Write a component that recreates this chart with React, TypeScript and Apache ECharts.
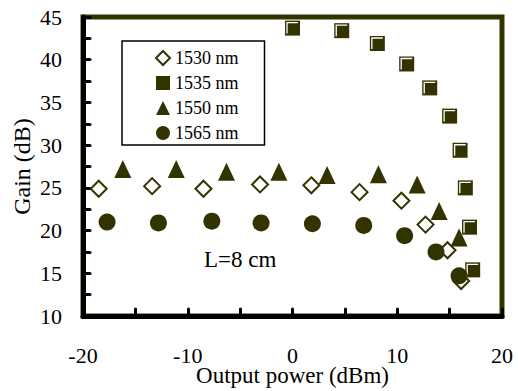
import React, { useEffect, useRef } from "react";
import * as echarts from "echarts";

const seriesNames = ["1530 nm", "1535 nm", "1550 nm", "1565 nm"];

const power1530 = [-18.5, -13.4, -8.5, -3.1, 1.8, 6.4, 10.4, 12.7, 14.8, 16.1];
const gain1530 = [24.9, 25.2, 24.9, 25.4, 25.3, 24.5, 23.5, 20.7, 17.7, 14.1];

const power1535 = [0.0, 4.7, 8.1, 10.9, 13.1, 15.0, 16.0, 16.5, 16.9, 17.2];
const gain1535 = [43.7, 43.4, 41.9, 39.5, 36.7, 33.4, 29.4, 25.0, 20.4, 15.4];

const power1550 = [-16.2, -11.1, -6.3, -1.3, 3.3, 8.2, 11.9, 14.0, 15.9];
const gain1550 = [27.2, 27.2, 26.9, 26.9, 26.5, 26.6, 25.4, 22.3, 19.2];

const power1565 = [-17.7, -12.8, -7.7, -3.0, 1.9, 6.8, 10.7, 13.7, 15.9];
const gain1565 = [21.0, 20.9, 21.1, 20.9, 20.8, 20.6, 19.4, 17.5, 14.7];

const xTicks = [-20, -10, 0, 10, 20];
const yTicks = [10, 15, 20, 25, 30, 35, 40, 45];

const OLIVE = "#333300";
const FONT = "serif";

const pairs = (xs: number[], ys: number[]) => xs.map((x, i) => [x, ys[i]]);

export default function App() {
  const ref = useRef<HTMLDivElement>(null);
  useEffect(() => {
    if (!ref.current) return;
    const chart = echarts.init(ref.current, undefined, { renderer: "svg" });
    const tickStyle = { show: true, inside: true, length: 7, lineStyle: { color: "#000", width: 3, cap: "round" } };
    chart.setOption({
      animation: false,
      backgroundColor: "#fff",
      textStyle: { fontFamily: FONT },
      grid: {
        left: 83,
        right: 16,
        top: 17,
        bottom: 75,
        outerBoundsMode: "none",
        containLabel: false,
        show: true,
        borderColor: OLIVE,
        borderWidth: 5,
        backgroundColor: "transparent",
      },
      legend: {
        data: seriesNames,
        orient: "vertical",
        left: 122,
        top: 41,
        padding: [8, 26, 3, 33],
        itemGap: 7,
        itemWidth: 14,
        itemHeight: 14,
        borderColor: "#000",
        borderWidth: 1.5,
        textStyle: { fontFamily: FONT, fontSize: 18, color: "#000" },
      },
      xAxis: {
        type: "value",
        min: -20,
        max: 20,
        interval: 5,
        name: "Output power (dBm)",
        nameLocation: "middle",
        nameGap: 48,
        nameMoveOverlap: false,
        nameTextStyle: { fontFamily: FONT, fontSize: 23, color: "#000" },
        axisLine: { show: true, onZero: false, lineStyle: { color: "#000", width: 5 } },
        axisTick: tickStyle,
        splitLine: { show: false },
        axisLabel: {
          margin: 28,
          fontFamily: FONT,
          fontSize: 22,
          color: "#000",
          formatter: (v: number) => (xTicks.includes(v) ? String(v) : ""),
        },
      },
      yAxis: {
        type: "value",
        min: 10,
        max: 45,
        interval: 2.5,
        name: "Gain (dB)",
        nameLocation: "middle",
        nameGap: 49,
        nameMoveOverlap: false,
        nameTextStyle: { fontFamily: FONT, fontSize: 24, color: "#000" },
        axisLine: { show: true, onZero: false, lineStyle: { color: "#000", width: 5 } },
        axisTick: tickStyle,
        splitLine: { show: false },
        axisLabel: {
          margin: 21,
          fontFamily: FONT,
          fontSize: 22,
          color: "#000",
          formatter: (v: number) => (yTicks.includes(v) ? String(v) : ""),
        },
      },
      graphic: [
        {
          type: "text",
          left: 204,
          top: 248,
          style: { text: "L=8 cm", fontFamily: FONT, fontSize: 23, fill: "#000" },
        },
      ],
      series: [
        {
          name: "1530 nm",
          type: "scatter",
          symbol: "diamond",
          symbolSize: 16,
          itemStyle: { color: "#fff", borderColor: OLIVE, borderWidth: 2, opacity: 1 },
          data: pairs(power1530, gain1530),
          z: 3,
        },
        {
          name: "1535 nm",
          type: "scatter",
          symbol: "rect",
          symbolSize: 15,
          itemStyle: { color: OLIVE, opacity: 1 },
          data: pairs(power1535, gain1535),
          z: 2,
        },
        {
          name: "1535 nm bevel",
          type: "scatter",
          symbol: "path://M0,12 L0,0 L12,0",
          symbolSize: 11,
          symbolKeepAspect: true,
          silent: true,
          itemStyle: { color: "none", borderColor: "#fff", borderWidth: 1.3, opacity: 1 },
          data: pairs(power1535, gain1535),
          z: 2,
        },
        {
          name: "1550 nm",
          type: "scatter",
          symbol: "triangle",
          symbolSize: [17, 18],
          itemStyle: { color: OLIVE, opacity: 1 },
          data: pairs(power1550, gain1550),
          z: 3,
        },
        {
          name: "1565 nm",
          type: "scatter",
          symbol: "circle",
          symbolSize: 17,
          itemStyle: { color: OLIVE, opacity: 1 },
          data: pairs(power1565, gain1565),
          z: 3,
        },
      ],
    });
    return () => chart.dispose();
  }, []);
  return <div ref={ref} style={{ width: 518, height: 391, position: "absolute", left: 0, top: 0 }} />;
}
